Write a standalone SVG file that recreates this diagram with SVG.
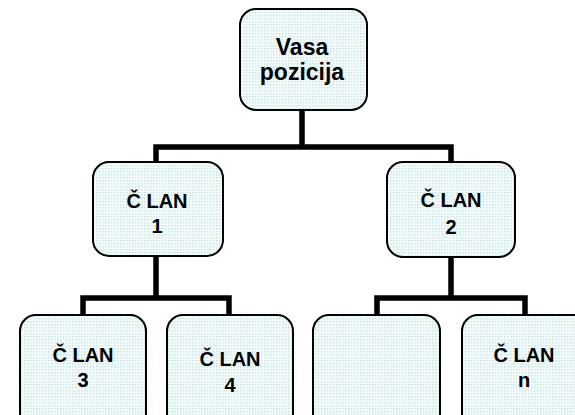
<svg xmlns="http://www.w3.org/2000/svg" width="575" height="415" viewBox="0 0 575 415">
<style>
.box{fill:url(#dots);stroke:#000;stroke-width:2}
.conn{fill:none;stroke:#000;stroke-width:5.5;stroke-linejoin:miter}
text{font-family:"Liberation Sans",Arial,sans-serif;font-weight:bold;font-size:20px;text-anchor:middle;fill:#000}
.big{font-size:23px}
</style>
<defs>
<pattern id="dots" width="3" height="3" patternUnits="userSpaceOnUse">
<rect width="3" height="3" fill="#f7fcfc"/>
<rect width="1.5" height="1.5" fill="#c4e5e6"/>
</pattern>
</defs>
<rect width="575" height="415" fill="#fff"/>
<g id="connectors">
<path class="conn" d="M302,110 V147 M156,162 V147 H451 V162"/>
<path class="conn" d="M156,256 V298 M83,315 V298 H229 V315"/>
<path class="conn" d="M451,257 V298 M377,315 V298 H525 V315"/>
</g>
<g id="root">
<rect class="box" x="240" y="9" width="127" height="101" rx="16"/>
<text class="big" x="302" y="55">Vasa</text>
<text class="big" x="302" y="80">pozicija</text>
</g>
<g id="clan1">
<rect class="box" x="93" y="162" width="130" height="94" rx="16"/>
<text x="157" y="208">Č LAN</text>
<text x="157" y="233">1</text>
</g>
<g id="clan2">
<rect class="box" x="387" y="162" width="128" height="95" rx="16"/>
<text x="451" y="207">Č LAN</text>
<text x="451" y="234">2</text>
</g>
<g id="clan3">
<rect class="box" x="20" y="315" width="126" height="120" rx="16"/>
<text x="83" y="362">Č LAN</text>
<text x="83" y="387">3</text>
</g>
<g id="clan4">
<rect class="box" x="167" y="315" width="126" height="120" rx="16"/>
<text x="230" y="366">Č LAN</text>
<text x="230" y="392">4</text>
</g>
<g id="empty">
<rect class="box" x="313" y="315" width="127" height="120" rx="16"/>
</g>
<g id="clann">
<rect class="box" x="462" y="315" width="127" height="120" rx="16"/>
<text x="524" y="362">Č LAN</text>
<text x="524" y="387">n</text>
</g>
</svg>
